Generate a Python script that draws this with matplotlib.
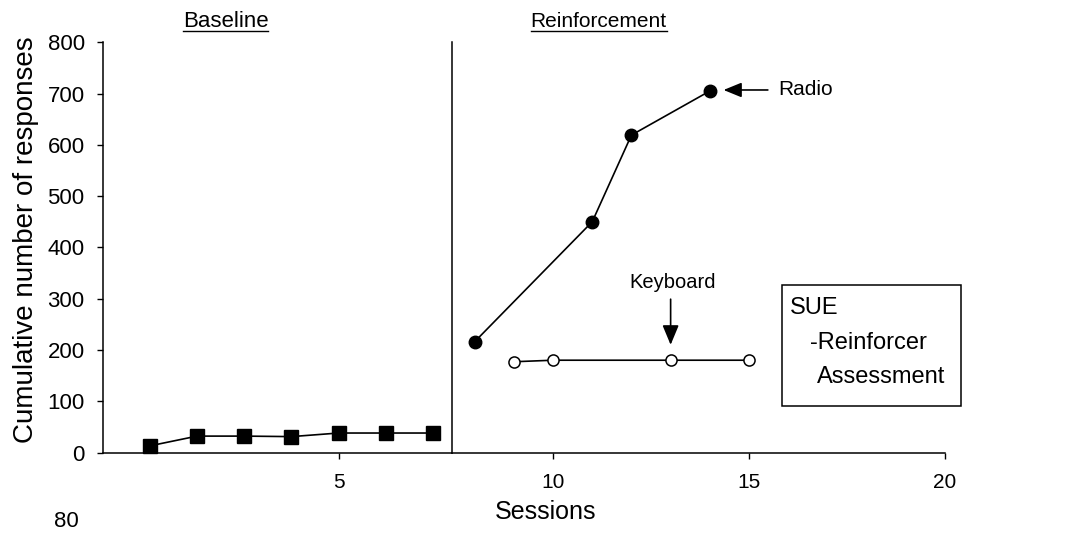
import matplotlib as mpl
import matplotlib.pyplot as plt
from matplotlib.patches import Rectangle
from matplotlib.lines import Line2D

mpl.rcParams.update({
    'font.family': ['Liberation Sans', 'DejaVu Sans'],
    'axes.linewidth': 1.1,
    'xtick.direction': 'out',
    'ytick.direction': 'out',
    'xtick.major.size': 4,
    'ytick.major.size': 4,
    'xtick.major.width': 1.0,
    'ytick.major.width': 1.0,
})

# data
baseline_sessions = [1, 2, 3, 4, 5, 6, 7]
baseline_resp = [13, 32, 32, 31, 38, 38, 38]

radio_sessions = [8, 11, 12, 14]
radio_resp = [216, 450, 619, 705]

keyboard_sessions = [9, 10, 13, 15]
keyboard_resp = [177, 180, 180, 180]

yticks = [0, 100, 200, 300, 400, 500, 600, 700, 800]
left_xticks = [5]
right_xticks = [10, 15, 20]
phase_change = 7.43

fig = plt.figure(figsize=(10.7, 5.34), dpi=100)
ax1 = fig.add_axes([0.0960, 0.1526, 0.3267, 0.7682])
ax2 = fig.add_axes([0.4227, 0.1526, 0.4605, 0.7682], sharey=ax1)

# baseline phase
ax1.plot(baseline_sessions, baseline_resp, color="black", linewidth=1.2,
         marker="s", markersize=9.5, clip_on=False)
ax1.set_xlim(0, 7.41)
ax1.set_ylim(0, 800)
ax1.set_yticks(yticks)
ax1.set_xticks(left_xticks)
ax1.spines["top"].set_visible(False)
ax1.spines["right"].set_visible(False)
ax1.tick_params(axis="y", labelsize=16, pad=9)
ax1.tick_params(axis="x", labelsize=15, pad=11)
ax1.set_ylabel("Cumulative number of responses", fontsize=20)
ax1.yaxis.set_label_coords(-0.182, 0.52)

# reinforcement phase
ax2.plot(radio_sessions, radio_resp, color="black", linewidth=1.2,
         marker="o", markersize=9, clip_on=False)
ax2.plot(keyboard_sessions, keyboard_resp, color="black", linewidth=1.2,
         marker="o", markersize=8, markerfacecolor="white",
         markeredgewidth=1.1, clip_on=False)
ax2.set_xlim(phase_change, 20)
ax2.set_xticks(right_xticks)
ax2.spines["top"].set_visible(False)
ax2.spines["right"].set_visible(False)
ax2.tick_params(axis="y", left=False, labelleft=False)
ax2.tick_params(axis="x", labelsize=15, pad=11)
ax2.set_xlabel("Sessions", fontsize=18)
ax2.xaxis.set_label_coords(0.19, -0.115)

# arrows and labels
ax2.annotate("", xy=(14.35, 707), xytext=(15.48, 707),
             arrowprops=dict(arrowstyle="-|>,head_length=1.1,head_width=0.45",
                             color="black", linewidth=1.2,
                             shrinkA=0, shrinkB=0, mutation_scale=10))
ax2.text(15.74, 707, "Radio", fontsize=15, ha="left", va="center")

ax2.annotate("", xy=(13, 210), xytext=(13, 299),
             arrowprops=dict(arrowstyle="-|>,head_length=1.2,head_width=0.5",
                             color="black", linewidth=1.2,
                             shrinkA=0, shrinkB=0, mutation_scale=10))
ax2.text(13.05, 332, "Keyboard", fontsize=14.5, ha="center", va="center")

# SUE box
ax2.add_patch(Rectangle((15.83, 91), 20.42 - 15.83, 327 - 91, fill=False,
                        edgecolor="black", linewidth=1.1, clip_on=False))
ax2.text(16.05, 282, "SUE", fontsize=17, ha="left", va="center")
ax2.text(16.56, 214, "-Reinforcer", fontsize=17, ha="left", va="center")
ax2.text(16.73, 147, "Assessment", fontsize=17, ha="left", va="center")

# phase titles, underlined
titles = [
    fig.text(0.2107, 0.950, "Baseline", fontsize=16, ha="center", va="baseline"),
    fig.text(0.5595, 0.950, "Reinforcement", fontsize=15, ha="center", va="baseline"),
]
fig.canvas.draw()
inv = fig.transFigure.inverted()
for t in titles:
    bb = t.get_window_extent().transformed(inv)
    y_u = 0.950 - 0.008
    fig.add_artist(Line2D([bb.x0, bb.x1], [y_u, y_u], color="black",
                          linewidth=1.0, transform=fig.transFigure))

# fragment of the next panel at the bottom edge
fig.text(0.0738, 0.004, "80", fontsize=16, ha="right", va="bottom")

fig.savefig("out.png", dpi=100)
